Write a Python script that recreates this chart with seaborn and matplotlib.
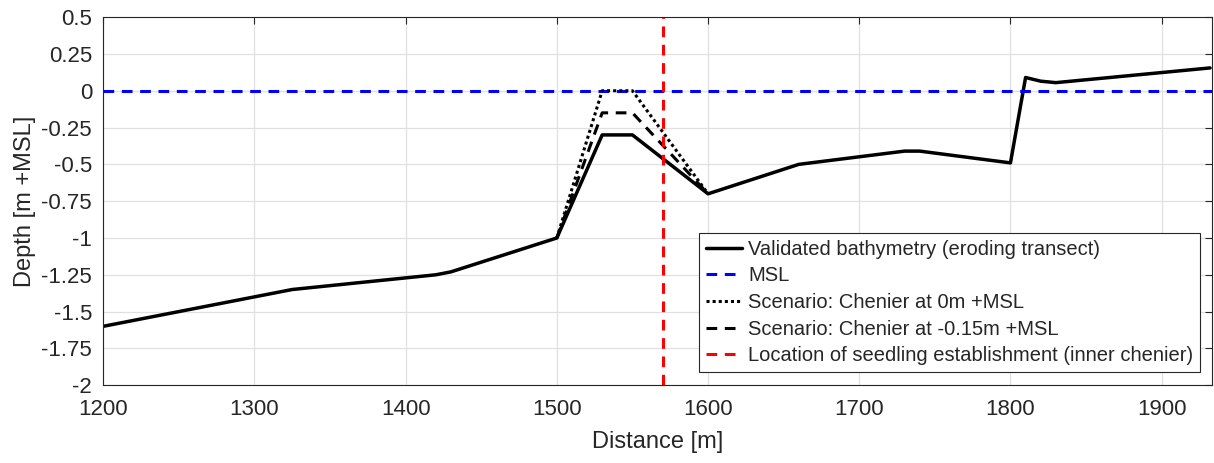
import numpy as np
import pandas as pd
import matplotlib
matplotlib.use('Agg')
import matplotlib.pyplot as plt
import seaborn as sns

# bathymetry along the transect
dist_bathy = [1200, 1325, 1420, 1430, 1500, 1530, 1550, 1600, 1660, 1730, 1740, 1800, 1810, 1820, 1830, 1932]
depth_bathy = [-1.6, -1.35, -1.25, -1.23, -1.0, -0.3, -0.3, -0.7, -0.5, -0.41, -0.41, -0.49, 0.09, 0.065, 0.055, 0.155]

# chenier scenarios
dist_scen = [1500, 1530, 1550, 1600]
depth_scen_0 = [-1.0, 0.0, 0.0, -0.7]
depth_scen_015 = [-1.0, -0.15, -0.15, -0.7]

msl_level = 0.0
seedling_loc = 1570

xticks = [1200, 1300, 1400, 1500, 1600, 1700, 1800, 1900]
yticks = [0.5, 0.25, 0, -0.25, -0.5, -0.75, -1, -1.25, -1.5, -1.75, -2]
ytick_labels = ['0.5', '0.25', '0', '-0.25', '-0.5', '-0.75', '-1', '-1.25', '-1.5', '-1.75', '-2']

sns.set_style('white')
plt.rcParams['font.family'] = ['Liberation Sans', 'DejaVu Sans']

fig, ax = plt.subplots(figsize=(12.14, 4.63), dpi=100)
fig.subplots_adjust(left=0.085, right=0.998, top=0.963, bottom=0.168)

bathy = pd.DataFrame({'Distance': dist_bathy, 'Depth': depth_bathy})
scen0 = pd.DataFrame({'Distance': dist_scen, 'Depth': depth_scen_0})
scen015 = pd.DataFrame({'Distance': dist_scen, 'Depth': depth_scen_015})

sns.lineplot(data=bathy, x='Distance', y='Depth', ax=ax, color='black', linewidth=2.5,
             label='Validated bathymetry (eroding transect)', sort=False)
ax.axhline(msl_level, color='#0000ff', linestyle=(0, (3.5, 2.5)), linewidth=2.2, label='MSL')
sns.lineplot(data=scen0, x='Distance', y='Depth', ax=ax, color='black', linewidth=2.2,
             linestyle=(0, (1, 1)), label='Scenario: Chenier at 0m +MSL', sort=False)
sns.lineplot(data=scen015, x='Distance', y='Depth', ax=ax, color='black', linewidth=2.2,
             linestyle=(0, (3.5, 2.5)), label='Scenario: Chenier at -0.15m +MSL', sort=False)
ax.axvline(seedling_loc, color='#ff0000', linestyle=(0, (3.5, 2.5)), linewidth=2.2,
           label='Location of seedling establishment (inner chenier)')

ax.set_xlim(1200, 1933)
ax.set_ylim(-2, 0.5)
ax.set_xticks(xticks)
ax.set_xticklabels([str(t) for t in xticks])
ax.set_yticks(yticks)
ax.set_yticklabels(ytick_labels)
ax.tick_params(direction='in', length=5, labelsize=16, colors='#262626', top=True, right=True)
ax.tick_params(axis='x', pad=10)
ax.tick_params(axis='y', pad=8)
ax.grid(True, color='#e0e0e0', linewidth=0.9)
for s in ax.spines.values():
    s.set_color('#262626')
    s.set_linewidth(0.8)

ax.set_xlabel('Distance [m]', fontsize=17, color='#262626', labelpad=8)
ax.set_ylabel('Depth [m +MSL]', fontsize=17, color='#262626', labelpad=4)

leg = ax.legend(loc='lower right', bbox_to_anchor=(0.99, 0.035), fontsize=14.5, frameon=True,
                fancybox=False, edgecolor='#262626', framealpha=1, handlelength=1.8,
                handletextpad=0.3, borderpad=0.35, labelspacing=0.38, borderaxespad=0)
leg.get_frame().set_linewidth(0.8)

fig.savefig('out.png', dpi=100)
